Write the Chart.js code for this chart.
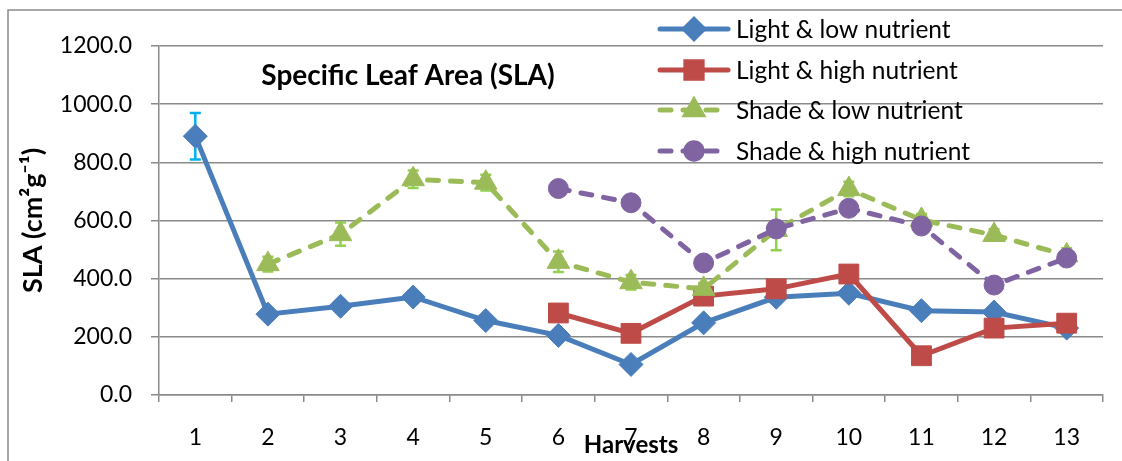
<!DOCTYPE html>
<html>
<head>
<meta charset="utf-8">
<script src="https://cdn.jsdelivr.net/npm/chart.js@4/dist/chart.umd.min.js"></script>
<style>
  html, body { margin: 0; padding: 0; background: #fff; }
  #wrap { width: 1122px; height: 461px; }
</style>
</head>
<body>
<div id="wrap"><canvas id="sla" width="1122" height="461"></canvas></div>
<script>
// values
var harvests = ['1', '2', '3', '4', '5', '6', '7', '8', '9', '10', '11', '12', '13'];
var lightLow = [890, 278, 305, 337, 256, 205, 105, 248, 336, 350, 290, 285, 230];
var lightHigh = [null, null, null, null, null, 282, 212, 340, 365, 416, 135, 230, 247];
var shadeLow = [null, 450, 553, 742, 730, 458, 388, 365, 568, 708, 602, 550, 480];
var shadeHigh = [null, null, null, null, null, 710, 661, 454, 571, 642, 581, 378, 471];
var lightLowErr = [80, 10, 10, 10, 10, 10, 10, 10, 20, 10, 10, 10, 10];
var shadeLowErr = [null, 25, 40, 30, 27, 35, 25, 20, 70, 25, 20, 20, 25];
var yTicks = [0, 200, 400, 600, 800, 1000, 1200];

var FONT = 'Lato, "DejaVu Sans", sans-serif';
var GRID = '#8a8a8a';

// error bars drawn behind the markers
var errorBars = {
  id: 'errorBars',
  beforeDatasetsDraw: function (chart) {
    var ctx = chart.ctx;
    var ys = chart.scales.y;
    var sets = [
      { ds: 0, vals: lightLow, err: lightLowErr, color: '#00b0f0' },
      { ds: 2, vals: shadeLow, err: shadeLowErr, color: '#92d050' }
    ];
    ctx.save();
    sets.forEach(function (s) {
      var meta = chart.getDatasetMeta(s.ds);
      ctx.strokeStyle = s.color;
      ctx.lineWidth = 2.5;
      s.vals.forEach(function (v, i) {
        if (v == null || s.err[i] == null) return;
        var x = meta.data[i].x;
        var y1 = ys.getPixelForValue(v + s.err[i]);
        var y2 = ys.getPixelForValue(v - s.err[i]);
        ctx.beginPath();
        ctx.moveTo(x, y1); ctx.lineTo(x, y2);
        ctx.moveTo(x - 5.5, y1); ctx.lineTo(x + 5.5, y1);
        ctx.moveTo(x - 5.5, y2); ctx.lineTo(x + 5.5, y2);
        ctx.stroke();
      });
    });
    ctx.restore();
  }
};

// outer frame, title inside the plot and the legend on top of the grid
var extras = {
  id: 'extras',
  afterDraw: function (chart) {
    var ctx = chart.ctx;
    ctx.save();
    ctx.strokeStyle = GRID;
    ctx.lineWidth = 1.5;
    ctx.beginPath();
    ctx.moveTo(8, 470); ctx.lineTo(8, 10); ctx.lineTo(1130, 10);
    ctx.stroke();

    ctx.fillStyle = '#000';
    ctx.font = 'bold 28px ' + FONT;
    ctx.textAlign = 'center';
    ctx.textBaseline = 'middle';
    ctx.fillText('Specific Leaf Area (SLA)', 408, 76);

    var rows = [29, 70, 110, 151];
    ctx.font = '24.5px ' + FONT;
    ctx.textAlign = 'left';
    chart.data.datasets.forEach(function (ds, i) {
      var y = rows[i];
      ctx.save();
      ctx.strokeStyle = ds.borderColor;
      ctx.lineWidth = ds.borderWidth;
      ctx.lineCap = 'round';
      ctx.setLineDash(ds.borderDash || []);
      ctx.beginPath();
      ctx.moveTo(660, y); ctx.lineTo(728, y);
      ctx.stroke();
      ctx.restore();
      ctx.fillStyle = ds.pointBackgroundColor;
      ctx.strokeStyle = ds.pointBackgroundColor;
      Chart.helpers.drawPoint(ctx, { pointStyle: ds.pointStyle, radius: ds.pointRadius, borderWidth: 1, rotation: 0 }, 694, y);
      ctx.fillStyle = '#000';
      ctx.fillText(ds.label, 736, y + 1);
    });
    ctx.restore();
  }
};

function series(label, data, color, style, radius, dashed, order) {
  return {
    label: label,
    data: data,
    borderColor: color,
    backgroundColor: color,
    pointBackgroundColor: color,
    pointBorderColor: color,
    pointBorderWidth: 1,
    pointStyle: style,
    pointRadius: radius,
    pointHoverRadius: radius,
    borderWidth: 5,
    borderDash: dashed ? [11, 12] : [],
    borderCapStyle: dashed ? 'round' : 'butt',
    tension: 0,
    fill: false,
    spanGaps: false,
    order: order
  };
}

new Chart(document.getElementById('sla'), {
  type: 'line',
  data: {
    labels: harvests,
    datasets: [
      series('Light & low nutrient', lightLow, '#4a7ebb', 'rectRot', 12, false, 4),
      series('Light & high nutrient', lightHigh, '#be4b48', 'rect', 14, false, 3),
      series('Shade & low nutrient', shadeLow, '#9bbb59', 'triangle', 13, true, 2),
      series('Shade & high nutrient', shadeHigh, '#8064a2', 'circle', 10, true, 1)
    ]
  },
  options: {
    responsive: false,
    animation: false,
    layout: { padding: { top: 46, right: 19, left: 0, bottom: 0 } },
    plugins: { legend: { display: false }, tooltip: { enabled: false } },
    scales: {
      x: {
        type: 'category',
        offset: true,
        grid: { offset: true, drawOnChartArea: false, drawTicks: true, tickLength: 7, color: GRID, lineWidth: 1.5 },
        border: { color: GRID, width: 1.5 },
        ticks: { color: '#000', font: { family: FONT, size: 23 }, padding: 22, maxRotation: 0 },
        title: { display: true, text: 'Harvests', color: '#000', font: { family: FONT, size: 24, weight: 'bold' }, padding: { top: 0, bottom: 1 } },
        afterFit: function (s) { s.height = 66; }
      },
      y: {
        min: 0,
        max: 1200,
        afterBuildTicks: function (s) { s.ticks = yTicks.map(function (v) { return { value: v }; }); },
        grid: { color: GRID, lineWidth: 1.5, tickLength: 8 },
        border: { color: GRID, width: 1.5 },
        ticks: { color: '#000', font: { family: FONT, size: 23 }, padding: 19, callback: function (v) { return Number(v).toFixed(1); } },
        title: { display: true, text: 'SLA (cm²g⁻¹)', color: '#000', font: { family: FONT, size: 27, weight: 'bold' }, padding: { top: 17, bottom: 0 } },
        afterFit: function (s) { s.width = 159; }
      }
    }
  },
  plugins: [errorBars, extras]
});
</script>
</body>
</html>
